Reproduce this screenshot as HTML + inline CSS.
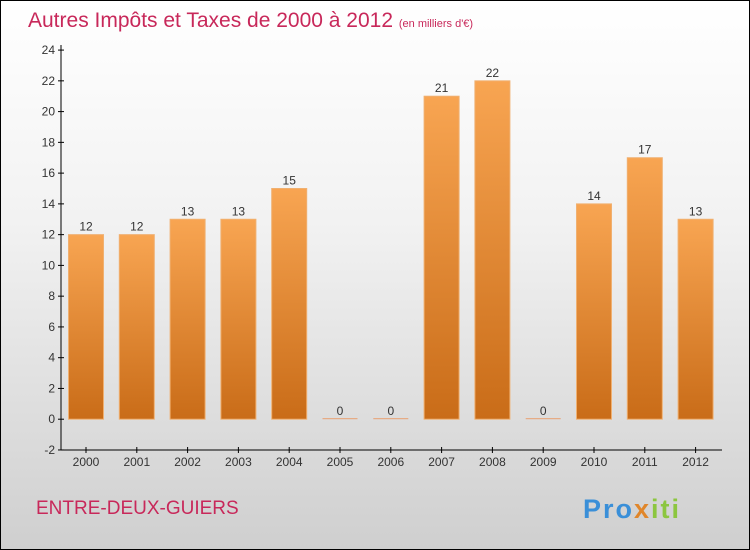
<!DOCTYPE html>
<html><head><meta charset="utf-8"><style>
body{margin:0}
#c{width:750px;height:550px;position:relative;box-sizing:border-box;border:1px solid #000;background:linear-gradient(#ffffff,#f2f2f2 40%,#cfcfcf);font-family:"Liberation Sans",sans-serif;overflow:hidden}
</style></head><body>
<div id="c">
<svg width="750" height="550" style="position:absolute;left:-1px;top:-1px" font-family="Liberation Sans, sans-serif">
<defs><linearGradient id="g" x1="0" y1="0" x2="0" y2="1"><stop offset="0" stop-color="#f8a552"/><stop offset="1" stop-color="#c96c18"/></linearGradient></defs>
<text x="28" y="27" font-size="21" fill="#c8285a">Autres Impôts et Taxes de 2000 à 2012 <tspan font-size="11">(en milliers d'€)</tspan></text>
<g id="axes"></g><g id="bars"></g>
<text x="36" y="514" font-size="19" fill="#c8285a">ENTRE-DEUX-GUIERS</text>
<text x="583" y="518" font-size="27" font-weight="bold" letter-spacing="2" fill="#3a8fd8">Pro<tspan fill="#e0862a">x</tspan><tspan fill="#8cc63f">iti</tspan></text>
</svg>
</div>
<script>
const years=["2000","2001","2002","2003","2004","2005","2006","2007","2008","2009","2010","2011","2012"];
const values=[12,12,13,13,15,0,0,21,22,0,14,17,13];
const yTicks=[-2,0,2,4,6,8,10,12,14,16,18,20,22,24];
const NS="http://www.w3.org/2000/svg";
const y=v=>419.2-v*15.38;
const x=i=>86+i*50.8;
function mk(t,a,p){const e=document.createElementNS(NS,t);for(const k in a)e.setAttribute(k,a[k]);p.appendChild(e);return e;}
const ax=document.getElementById('axes'),bs=document.getElementById('bars');
const yl=mk('line',{x1:61,x2:61,y1:45,y2:450,stroke:'#000'},ax);


const xl=mk('line',{x1:61,x2:722,y1:450,y2:450,stroke:'#000'},ax);


yTicks.forEach(v=>{
 mk('line',{x1:58,x2:64,y1:y(v),y2:y(v),stroke:'#000'},ax);
 const t=mk('text',{x:55,y:y(v)+4,'font-size':12,'text-anchor':'end',fill:'#333'},ax);t.textContent=v;
 
 
});
years.forEach((yr,i)=>{
 mk('line',{x1:x(i),x2:x(i),y1:447,y2:453,stroke:'#000'},ax);
 const t=mk('text',{x:x(i),y:466,'font-size':12,'text-anchor':'middle',fill:'#333'},ax);t.textContent=yr;
 
 
 const v=values[i];
 const h=Math.max(1,y(0)-y(v));
 const r=mk('rect',{x:x(i)-17.5,y:y(0)-h,width:35,height:h,fill:v?'url(#g)':'#e8a070',stroke:v?'#f0b070':'none','stroke-width':1},bs);
 
 
 const l=mk('text',{x:x(i),y:y(v)-4,'font-size':12,'text-anchor':'middle',fill:'#333'},bs);l.textContent=v;
 
 
});
</script>
</body></html>
